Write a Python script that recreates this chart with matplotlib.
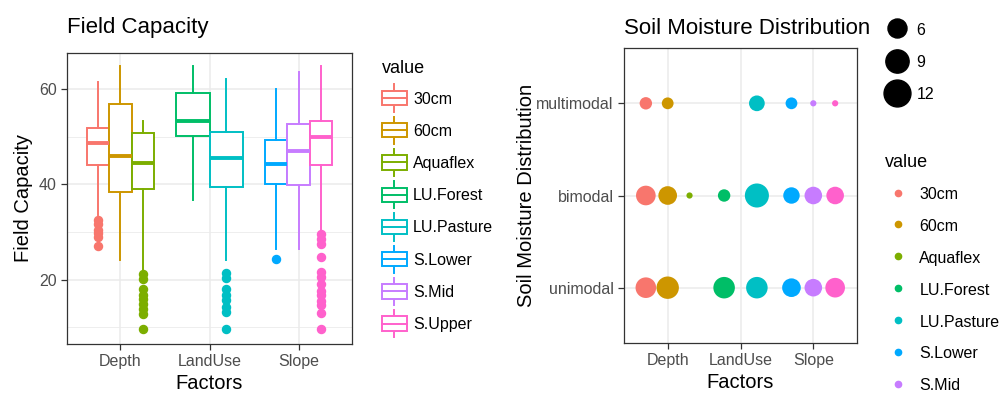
import matplotlib
matplotlib.use("Agg")
import matplotlib.pyplot as plt
import numpy as np
from matplotlib.lines import Line2D
from matplotlib.patches import Rectangle
from matplotlib.legend_handler import HandlerBase

plt.rcParams["font.family"] = ["Liberation Sans", "DejaVu Sans"]

# ---- data ----
factors = ["Depth", "LandUse", "Slope"]
groups = {
    "Depth": ["30cm", "60cm", "Aquaflex"],
    "LandUse": ["LU.Forest", "LU.Pasture"],
    "Slope": ["S.Lower", "S.Mid", "S.Upper"],
}
levels = ["30cm", "60cm", "Aquaflex", "LU.Forest", "LU.Pasture", "S.Lower", "S.Mid", "S.Upper"]
colors = ["#F8766D", "#CD9600", "#7CAE00", "#00BE67", "#00BFC4", "#00A9FF", "#C77CFF", "#FF61CC"]

# field capacity box statistics
whislo = [33.5, 24.1, 22.0, 36.8, 24.1, 26.5, 26.5, 30.3]
q1     = [44.1, 38.5, 39.1, 50.1, 39.4, 40.0, 39.8, 44.1]
med    = [48.6, 46.0, 44.5, 53.4, 45.5, 44.2, 47.0, 49.9]
q3     = [51.8, 56.9, 50.8, 59.2, 51.0, 49.4, 52.6, 53.3]
whishi = [61.6, 64.8, 53.4, 64.8, 62.2, 60.1, 63.6, 64.8]
fliers = [
    [32.5, 31.8, 30.5, 29.8, 29.0, 27.0],
    [],
    [21.2, 20.2, 18.1, 16.7, 16.0, 14.9, 13.9, 12.8, 9.7],
    [],
    [21.4, 20.3, 18.1, 16.7, 15.7, 14.3, 13.2, 9.7],
    [24.3],
    [],
    [29.6, 28.6, 27.5, 24.7, 21.6, 20.5, 19.1, 17.7, 16.7, 15.6, 14.6, 13.1, 9.7],
]

# soil moisture distribution counts per level: unimodal, bimodal, multimodal
modes = ["unimodal", "bimodal", "multimodal"]
counts = {
    "30cm":       [11, 10, 4],
    "60cm":       [13, 9, 3.6],
    "Aquaflex":   [0, 1, 0],
    "LU.Forest":  [12, 4, 0],
    "LU.Pasture": [12, 15, 6.4],
    "S.Lower":    [9, 7, 3.6],
    "S.Mid":      [8, 8, 1],
    "S.Upper":    [10, 8, 1],
}
size_breaks = [6, 9, 12]


class BoxKey(HandlerBase):
    def create_artists(self, legend, orig_handle, xdescent, ydescent, width, height, fontsize, trans):
        c = orig_handle.get_color()
        x0, y0 = -xdescent, -ydescent
        cx = x0 + width / 2
        lw = 1.4
        arts = [
            Line2D([cx, cx], [y0 - 0.45 * height, y0], color=c, lw=lw),
            Line2D([cx, cx], [y0 + height, y0 + 1.45 * height], color=c, lw=lw),
            Rectangle((x0, y0), width, height, facecolor="white", edgecolor=c, lw=lw),
            Line2D([x0, x0 + width], [y0 + 0.5 * height] * 2, color=c, lw=lw),
        ]
        for a in arts:
            a.set_transform(trans)
        return arts


def style_axes(ax):
    for s in ax.spines.values():
        s.set_color("#333333")
        s.set_linewidth(0.9)
    ax.tick_params(colors="#333333", labelcolor="#4D4D4D", labelsize=11.5, length=4, width=0.9)
    ax.set_axisbelow(True)


W, H = 1005, 394
fig = plt.figure(figsize=(W / 100, H / 100), dpi=100)

# ---- left: boxplots ----
ax1 = fig.add_axes([67 / W, 1 - 344 / H, 285 / W, 291 / H])
style_axes(ax1)
for xi, f in enumerate(factors, start=1):
    g = groups[f]
    w = 0.75 / len(g)
    for j, name in enumerate(g):
        i = levels.index(name)
        st = dict(med=med[i], q1=q1[i], q3=q3[i], whislo=whislo[i], whishi=whishi[i], fliers=fliers[i])
        ax1.bxp([st], positions=[xi - 0.375 + (j + 0.5) * w], widths=w, showcaps=False, patch_artist=True,
                manage_ticks=False,
                boxprops=dict(facecolor="white", edgecolor=colors[i], linewidth=1.4),
                whiskerprops=dict(color=colors[i], linewidth=1.4),
                medianprops=dict(color=colors[i], linewidth=2.8, solid_capstyle="butt"),
                flierprops=dict(marker="o", markerfacecolor=colors[i], markeredgecolor=colors[i], markersize=5.8))
ax1.set_xlim(0.4, 3.6)
ax1.set_ylim(6.5, 67.6)
ax1.set_xticks([1, 2, 3])
ax1.set_xticklabels(factors)
ax1.set_yticks([20, 40, 60])
ax1.set_yticks([10, 30, 50], minor=True)
ax1.tick_params(axis="y", which="minor", length=0)
ax1.grid(True, which="major", color="#EBEBEB", linewidth=1.1)
ax1.grid(True, which="minor", axis="y", color="#EBEBEB", linewidth=0.6)
ax1.set_xlabel("Factors", fontsize=14.5, labelpad=3)
ax1.set_ylabel("Field Capacity", fontsize=14.5, labelpad=4)
fig.text(67 / W, 1 - 28 / H, "Field Capacity", fontsize=16, va="center", ha="left")

handles = [Line2D([], [], color=c) for c in colors]
leg1 = fig.legend(handles, levels, handler_map={Line2D: BoxKey()}, loc="upper left",
                  bbox_to_anchor=(382 / W, 1 - 60 / H), frameon=False, fontsize=11.5,
                  title="value", title_fontsize=13, alignment="left",
                  handlelength=1.55, handleheight=1.0, labelspacing=1.04, handletextpad=0.4,
                  borderpad=0, borderaxespad=0)
leg1._legend_box.sep = 10

# ---- right: point sizes ----
ax2 = fig.add_axes([624 / W, 1 - 343 / H, 233 / W, 295 / H])
style_axes(ax2)
for xi, f in enumerate(factors, start=1):
    g = groups[f]
    for j, name in enumerate(g):
        i = levels.index(name)
        xo = xi + (j - (len(g) - 1) / 2) * 0.9 / len(g)
        for yi, n in enumerate(counts[name], start=1):
            if n > 0:
                ax2.scatter([xo], [yi], s=20 * n, color=colors[i], edgecolors="none", zorder=3)
ax2.set_xlim(0.4, 3.6)
ax2.set_ylim(0.4, 3.6)
ax2.set_xticks([1, 2, 3])
ax2.set_xticklabels(factors)
ax2.set_yticks([1, 2, 3])
ax2.set_yticklabels(modes)
ax2.grid(True, color="#EBEBEB", linewidth=1.1)
ax2.set_xlabel("Factors", fontsize=14.5, labelpad=3)
ax2.set_ylabel("Soil Moisture Distribution", fontsize=14.5, labelpad=0)
fig.text(624 / W, 1 - 28 / H, "Soil Moisture Distribution", fontsize=16, va="center", ha="left")

size_handles = [Line2D([], [], marker="o", linestyle="none", color="black", markersize=np.sqrt(20 * n) * 1.25)
                for n in size_breaks]
leg2 = fig.legend(size_handles, [str(n) for n in size_breaks], loc="upper left",
                  bbox_to_anchor=(887 / W, 1 - 22 / H), frameon=False, fontsize=11.5,
                  handlelength=1.3, handleheight=1.0, labelspacing=1.05, handletextpad=0.55,
                  borderpad=0, borderaxespad=0)

# the right colour legend is cut by the figure edge after S.Mid
shown = levels[:7]
col_handles = [Line2D([], [], marker="o", linestyle="none", color=c, markersize=4.5) for c in colors[:7]]
leg3 = fig.legend(col_handles, shown, loc="upper left",
                  bbox_to_anchor=(885 / W, 1 - 154 / H), frameon=False, fontsize=11.5,
                  title="value", title_fontsize=13, alignment="left",
                  handlelength=1.6, handleheight=1.0, labelspacing=1.02, handletextpad=0.55,
                  borderpad=0, borderaxespad=0)
leg3._legend_box.sep = 11

fig.savefig("out.png", dpi=100, facecolor="white")
